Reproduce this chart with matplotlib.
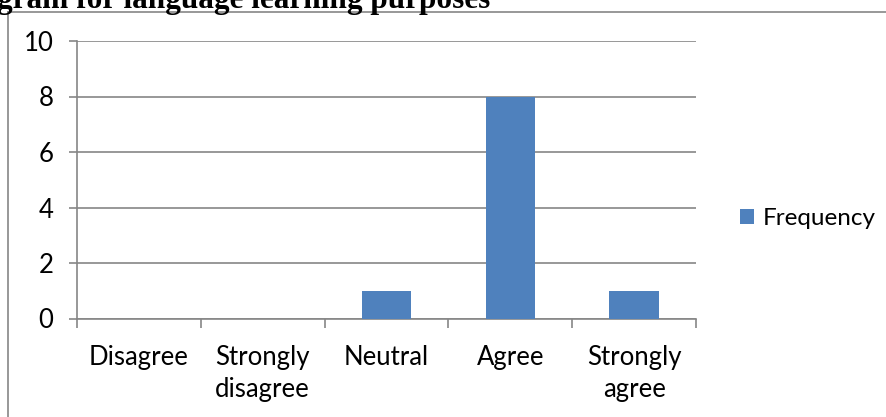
import matplotlib.pyplot as plt
from matplotlib.lines import Line2D

# Responses per answer option
categories = ['Disagree', 'Strongly\ndisagree', 'Neutral', 'Agree', 'Strongly\nagree']
frequency = [0, 0, 1, 8, 1]
yticks = [0, 2, 4, 6, 8, 10]

W, H = 886, 417
fig = plt.figure(figsize=(W / 100, H / 100), dpi=100)
plt.rcParams['font.family'] = ['Lato', 'DejaVu Sans']

grey = '#868686'
blue = '#4F81BD'

# heading line, cut off at the top of the page
fig.text(-3 / W, 1 - 8 / H, 'gram for language learning purposes', family='Liberation Serif',
         fontweight='bold', fontsize=22.5, va='baseline', ha='left')

# outer chart frame
fig.add_artist(Line2D([7.5 / W, 7.5 / W], [0, 1 - 12 / H], color=grey, lw=1.2))
fig.add_artist(Line2D([7.5 / W, 1], [1 - 12 / H, 1 - 12 / H], color=grey, lw=1.2))

left, right = 77 / W, 696 / W
bottom, top = 1 - 318.5 / H, 1 - 41 / H
ax = fig.add_axes([left, bottom, right - left, top - bottom])

x = range(len(categories))
ax.bar(x, frequency, width=0.4, color=blue, label='Frequency', zorder=3)

ax.set_xlim(-0.5, len(categories) - 0.5)
ax.set_ylim(0, 10)
ax.set_yticks(yticks)
ax.yaxis.grid(True, color=grey, lw=1.2)
ax.set_axisbelow(True)

for s in ['top', 'right']:
    ax.spines[s].set_visible(False)
for s in ['left', 'bottom']:
    ax.spines[s].set_color(grey)
    ax.spines[s].set_linewidth(1.2)

ax.set_xticks(list(x))
ax.set_xticklabels(categories, fontsize=18.5, linespacing=1.35)
ax.tick_params(axis='x', which='major', length=0, pad=19)
ax.set_xticks([i - 0.5 for i in range(len(categories) + 1)], minor=True)
ax.tick_params(axis='x', which='minor', length=6.5, color=grey, width=1.2)
ax.tick_params(axis='y', length=6, color=grey, width=1.2, labelsize=18.5, pad=11)

ax.legend(loc='center left', bbox_to_anchor=(1.035, 0.36), frameon=False, fontsize=17.5,
          handlelength=0.6, handleheight=0.6, handletextpad=0.35)

fig.savefig('out.png', dpi=100)
